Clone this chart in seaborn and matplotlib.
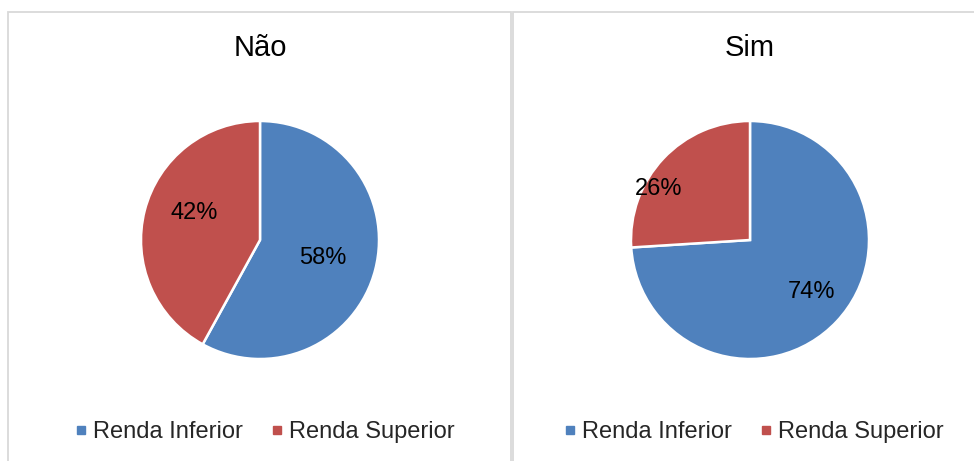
import numpy as np
import matplotlib.pyplot as plt
import seaborn as sns
from matplotlib.patches import Rectangle
from matplotlib.lines import Line2D

sns.set_theme(style="white")
plt.rcParams['font.family'] = ['Liberation Sans', 'DejaVu Sans']

# data
panels = ['Não', 'Sim']
categories = ['Renda Inferior', 'Renda Superior']
nao_pct = [58, 42]
sim_pct = [74, 26]
colors = ['#4F81BD', '#C0504D']

W, H = 974, 461
fig = plt.figure(figsize=(W / 100, H / 100), dpi=100)

# panel frames (pixel boxes -> figure fractions)
frame_col = '#d9d9d9'
for x0, x1 in [(8, 511), (513, 990)]:
    fig.add_artist(Rectangle((x0 / W, -0.1), (x1 - x0) / W, 1.1 - 12 / H,
                             transform=fig.transFigure, fill=False,
                             edgecolor=frame_col, lw=1.3))

R = 119
centers = [(260, 240), (750, 240)]
label_r = [[0.55, 0.6], [0.68, 0.88]]
label_shift = [[-2, -8], [3, 14]]  # degrees, to follow the original's label placement

for i, (name, vals) in enumerate(zip(panels, [nao_pct, sim_pct])):
    cx, cy = centers[i]
    ax = fig.add_axes([(cx - R) / W, (H - cy - R) / H, 2 * R / W, 2 * R / H])
    wedges, _ = ax.pie(vals, colors=colors, startangle=90, counterclock=False,
                       wedgeprops=dict(edgecolor='white', linewidth=1.8))
    ax.set_xlim(-1, 1)
    ax.set_ylim(-1, 1)
    for j, w in enumerate(wedges):
        ang = np.deg2rad((w.theta1 + w.theta2) / 2 + label_shift[i][j])
        r = label_r[i][j]
        ax.text(r * np.cos(ang), r * np.sin(ang), f'{vals[j]}%',
                ha='center', va='center', fontsize=17, color='black')

    fig.text(cx / W, 1 - 48 / H, name, ha='center', va='center', fontsize=21, color='black')

    handles = [Line2D([], [], marker='s', linestyle='none', markersize=5.5,
                      markerfacecolor=c, markeredgecolor=c) for c in colors]
    lx = 265 if i == 0 else 754
    fig.legend(handles, categories, loc='center', bbox_to_anchor=(lx / W, 1 - 432 / H),
               ncol=2, frameon=False, fontsize=17, handlelength=0.5,
               handletextpad=0.25, columnspacing=1.2, borderaxespad=0)

fig.savefig('out.png', dpi=100, facecolor='white')
